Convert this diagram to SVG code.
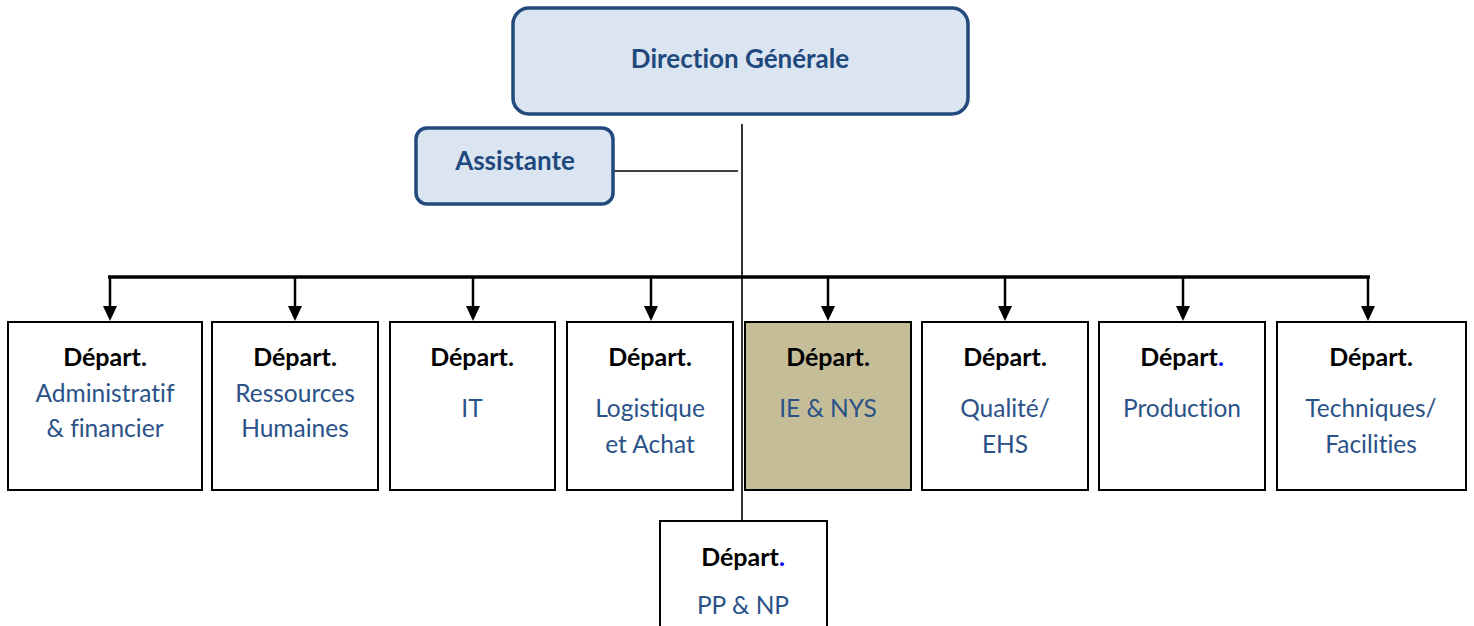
<svg xmlns="http://www.w3.org/2000/svg" width="1474" height="626" viewBox="0 0 1474 626">
<style>
.top{fill:#dbe5f1;stroke:#224a7c;stroke-width:3.5}
.dep{fill:#ffffff;stroke:#000;stroke-width:2}
.hl{fill:#c4bd97}
.t{font-family:Lato,"Open Sans",sans-serif;text-anchor:middle;font-variant-ligatures:none;font-feature-settings:"liga" 0}
.h{font-weight:bold;font-size:26px;fill:#1f497d}
.b{font-weight:bold;font-size:25px;fill:#000}
.n{font-size:24.5px;fill:#2a5288}
.dot{fill:#0000ff}
.ln{stroke:#000;fill:none}
</style>
<g id="connectors">
<line class="ln" x1="742" y1="124" x2="742" y2="521" stroke-width="1.6"/>
<line class="ln" x1="613" y1="171" x2="738" y2="171" stroke-width="1.6"/>
<line class="ln" x1="108" y1="277" x2="1370" y2="277" stroke-width="3.5"/>
<g stroke="#000" stroke-width="2.5">
<line x1="110" y1="277" x2="110" y2="308"/>
<line x1="295" y1="277" x2="295" y2="308"/>
<line x1="473" y1="277" x2="473" y2="308"/>
<line x1="651" y1="277" x2="651" y2="308"/>
<line x1="828" y1="277" x2="828" y2="308"/>
<line x1="1005" y1="277" x2="1005" y2="308"/>
<line x1="1183" y1="277" x2="1183" y2="308"/>
<line x1="1368" y1="277" x2="1368" y2="308"/>
</g>
<g fill="#000">
<path d="M103,306 L117,306 L110,321 Z"/>
<path d="M288,306 L302,306 L295,321 Z"/>
<path d="M466,306 L480,306 L473,321 Z"/>
<path d="M644,306 L658,306 L651,321 Z"/>
<path d="M821,306 L835,306 L828,321 Z"/>
<path d="M998,306 L1012,306 L1005,321 Z"/>
<path d="M1176,306 L1190,306 L1183,321 Z"/>
<path d="M1361,306 L1375,306 L1368,321 Z"/>
</g>
</g>
<g id="direction">
<rect class="top" x="513" y="8" width="455" height="106" rx="16"/>
<text class="t h" x="740" y="68">Direction Générale</text>
</g>
<g id="assistante">
<rect class="top" x="416" y="128" width="197" height="76" rx="11"/>
<text class="t h" x="515" y="170">Assistante</text>
</g>
<g id="dep-admin">
<rect class="dep" x="8" y="322" width="194" height="168"/>
<text class="t b" x="105" y="366">Départ.</text>
<text class="t n" x="105" y="402">Administratif</text>
<text class="t n" x="105" y="437">&amp; financier</text>
</g>
<g id="dep-rh">
<rect class="dep" x="212" y="322" width="166" height="168"/>
<text class="t b" x="295" y="366">Départ.</text>
<text class="t n" x="295" y="402">Ressources</text>
<text class="t n" x="295" y="437">Humaines</text>
</g>
<g id="dep-it">
<rect class="dep" x="390" y="322" width="165" height="168"/>
<text class="t b" x="472" y="366">Départ.</text>
<text class="t n" x="472" y="417">IT</text>
</g>
<g id="dep-log">
<rect class="dep" x="567" y="322" width="166" height="168"/>
<text class="t b" x="650" y="366">Départ.</text>
<text class="t n" x="650" y="417">Logistique</text>
<text class="t n" x="650" y="453">et Achat</text>
</g>
<g id="dep-ie">
<rect class="dep hl" x="745" y="322" width="166" height="168"/>
<text class="t b" x="828" y="366">Départ.</text>
<text class="t n" x="828" y="417">IE &amp; NYS</text>
</g>
<g id="dep-qual">
<rect class="dep" x="922" y="322" width="166" height="168"/>
<text class="t b" x="1005" y="366">Départ.</text>
<text class="t n" x="1005" y="417">Qualité/</text>
<text class="t n" x="1005" y="453">EHS</text>
</g>
<g id="dep-prod">
<rect class="dep" x="1099" y="322" width="166" height="168"/>
<text class="t b" x="1182" y="366">Départ<tspan class="dot">.</tspan></text>
<text class="t n" x="1182" y="417">Production</text>
</g>
<g id="dep-tech">
<rect class="dep" x="1277" y="322" width="189" height="168"/>
<text class="t b" x="1371" y="366">Départ.</text>
<text class="t n" x="1371" y="417">Techniques/</text>
<text class="t n" x="1371" y="453">Facilities</text>
</g>
<g id="dep-pp">
<rect class="dep" x="660" y="521" width="167" height="120"/>
<text class="t b" x="743" y="566">Départ<tspan class="dot">.</tspan></text>
<text class="t n" x="743" y="614">PP &amp; NP</text>
</g>
</svg>
